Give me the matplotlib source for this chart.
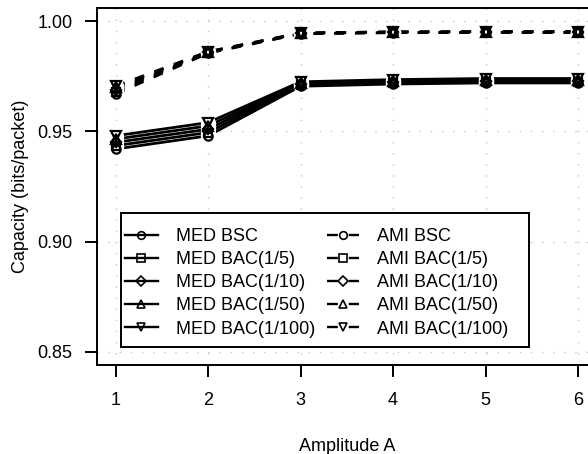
import matplotlib
matplotlib.use("Agg")
import matplotlib.pyplot as plt
from matplotlib.patches import Rectangle

plt.rcParams['font.family'] = ['Liberation Sans', 'DejaVu Sans']

amplitude = [1, 2, 3, 4, 5, 6]

med_bsc = [0.942, 0.948, 0.9705, 0.9715, 0.9720, 0.9720]
med_bac_5 = [0.9435, 0.9495, 0.9710, 0.9720, 0.9725, 0.9725]
med_bac_10 = [0.9450, 0.9510, 0.9715, 0.9725, 0.9730, 0.9730]
med_bac_50 = [0.9465, 0.9525, 0.9720, 0.9730, 0.9735, 0.9735]
med_bac_100 = [0.9480, 0.9540, 0.9725, 0.9735, 0.9740, 0.9740]

ami_bsc = [0.9670, 0.9855, 0.9943, 0.9948, 0.9949, 0.9949]
ami_bac_5 = [0.9680, 0.9857, 0.9944, 0.9949, 0.9950, 0.9950]
ami_bac_10 = [0.9690, 0.9859, 0.9945, 0.9950, 0.9951, 0.9951]
ami_bac_50 = [0.9700, 0.9861, 0.9946, 0.9951, 0.9952, 0.9952]
ami_bac_100 = [0.9705, 0.9862, 0.9947, 0.9952, 0.9953, 0.9953]

labels = ["BSC", "BAC(1/5)", "BAC(1/10)", "BAC(1/50)", "BAC(1/100)"]
markers = ["o", "s", "D", "^", "v"]
msizes = [6.0, 5.5, 5.5, 6.5, 6.5]
med = [med_bsc, med_bac_5, med_bac_10, med_bac_50, med_bac_100]
ami = [ami_bsc, ami_bac_5, ami_bac_10, ami_bac_50, ami_bac_100]

FS = 13
W, H = 499.5, 357  # axes size in px

fig = plt.figure(figsize=(5.88, 4.54), dpi=100)
ax = fig.add_axes([97 / 588, 89 / 454, W / 588, H / 454])

series = [(m, "solid", "MED " + l, mk, ms) for m, l, mk, ms in zip(med, labels, markers, msizes)]
series += [(a, "dashed", "AMI " + l, mk, ms) for a, l, mk, ms in zip(ami, labels, markers, msizes)]

# lines first
for vals, ls, lab, mk, ms in series:
    ax.plot(amplitude, vals, color="black", lw=2.0,
            linestyle="solid" if ls == "solid" else (0, (3.5, 4)), zorder=2)
# white gaps round points, like type="b"
for vals, ls, lab, mk, ms in series:
    ax.plot(amplitude, vals, linestyle="none", marker="o", ms=10,
            mfc="white", mec="white", zorder=3)
handles = []
for vals, ls, lab, mk, ms in series:
    ax.plot(amplitude, vals, linestyle="none", marker=mk, ms=ms,
            mfc="none", mec="black", mew=1.6, zorder=4)
    h, = ax.plot([], [], color="black", lw=1.7,
                 linestyle="solid" if ls == "solid" else (0, (4.6, 4.6)),
                 marker=mk, ms=5.5 if mk != "D" else 5,
                 mfc="none" if ls == "solid" else "white",
                 mec="black", mew=1.2, label=lab)
    handles.append(h)

ax.set_xlim(0.8, 6.2)
ax.set_ylim(0.844, 1.006)
ax.set_xticks(amplitude)
ax.set_yticks([0.85, 0.90, 0.95, 1.00])
ax.set_yticklabels(["0.85", "0.90", "0.95", "1.00"])
ax.grid(True, color="#c4c4c4", linestyle=(0, (1, 7)), lw=1.0)
ax.set_axisbelow(True)

for s in ["left", "bottom", "top"]:
    ax.spines[s].set_linewidth(1.4)
ax.spines["right"].set_visible(False)
ax.tick_params(direction="out", length=8.5, width=1.4, labelsize=FS, pad=9)
ax.tick_params(axis="x", pad=11)

ax.set_xlabel("Amplitude A", fontsize=FS)
ax.xaxis.set_label_coords((347 - 97) / W, -73 / H)
ax.set_ylabel("Capacity (bits/packet)", fontsize=FS, labelpad=6)

# legend box drawn separately (R style: wider on the right)
ax.add_patch(Rectangle(((121 - 97) / W, 1 - (346.7 - 8) / H), (528.7 - 121) / W,
                       (346.7 - 212.7) / H, transform=ax.transAxes,
                       facecolor="white", edgecolor="black", lw=1.4, zorder=5))
leg = ax.legend(handles=handles, ncol=2, loc="upper left",
                bbox_to_anchor=((125 - 97) / W, 1 - (228 - 8) / H),
                fontsize=FS, frameon=False, borderaxespad=0,
                handlelength=1.8, handletextpad=1.0, columnspacing=0.65,
                labelspacing=0.34, borderpad=0)
leg.set_zorder(6)

fig.savefig("out.png", dpi=100)
